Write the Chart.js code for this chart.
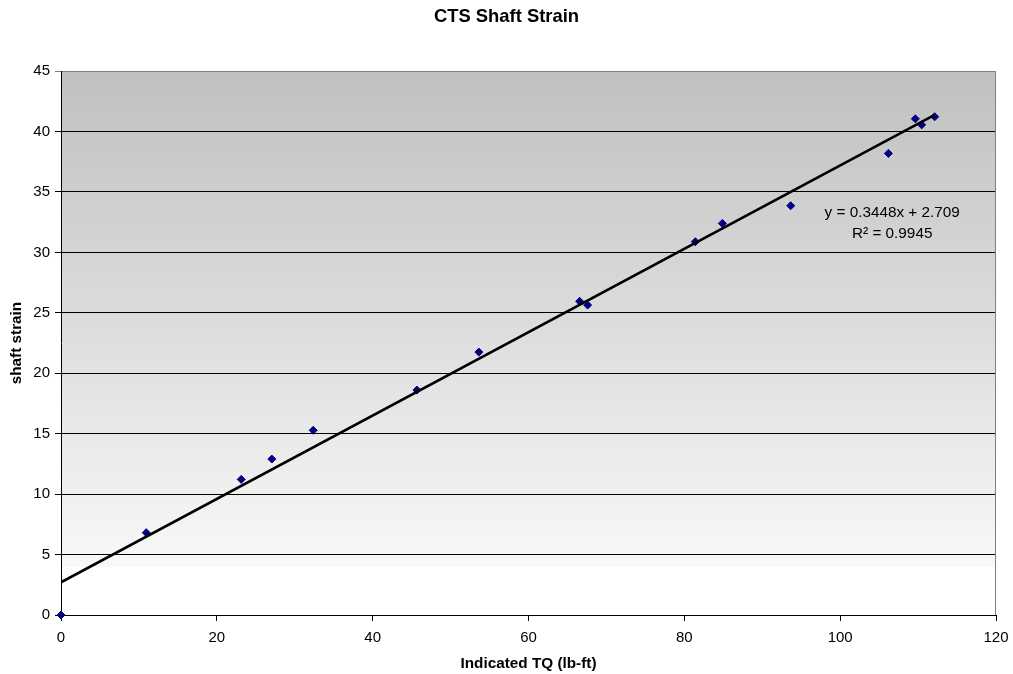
<!DOCTYPE html>
<html>
<head>
<meta charset="utf-8">
<script src="https://cdn.jsdelivr.net/npm/chart.js@4/dist/chart.umd.min.js"></script>
<style>
  html, body { margin: 0; padding: 0; background: #ffffff; }
  #wrap { width: 1013px; height: 674px; position: relative; }
</style>
</head>
<body>
<div id="wrap"><canvas id="c" width="1013" height="674"></canvas></div>
<script>
// ---- Data ----
const torque = [0, 10.94, 23.13, 27.06, 32.37, 45.68, 53.63, 66.56, 67.59, 81.41, 84.88, 93.65, 106.19, 109.65, 110.46, 112.13];
const strain = [0, 6.81, 11.22, 12.90, 15.28, 18.61, 21.75, 25.95, 25.64, 30.88, 32.40, 33.86, 38.19, 41.05, 40.55, 41.22];

// Linear trendline endpoints (as shown in the reference: y = 0.3448x + 2.709)
const trendX = [0, 112.13];
const trendY = [2.709, 41.37];

const xTicks = [0, 20, 40, 60, 80, 100, 120];
const yTicks = [0, 5, 10, 15, 20, 25, 30, 35, 40, 45];

const chartTitle = 'CTS Shaft Strain';
const xTitle = 'Indicated TQ (lb-ft)';
const yTitle = 'shaft strain';
const equationLines = ['y = 0.3448x + 2.709', 'R\u00B2 = 0.9945'];

// ---- Build chart ----
const FONT = "'Liberation Sans', Arial, Helvetica, sans-serif";

const scatterPoints = torque.map((x, i) => ({ x: x, y: strain[i] }));
const trendPoints = trendX.map((x, i) => ({ x: x, y: trendY[i] }));

const plotBackground = {
  id: 'plotBackground',
  beforeDraw(chart) {
    const { ctx, chartArea: a } = chart;
    const g = ctx.createLinearGradient(0, a.top, 0, a.bottom);
    g.addColorStop(0, '#c0c0c0');
    g.addColorStop(0.91, '#f8f8f8');
    g.addColorStop(0.912, '#ffffff');
    g.addColorStop(1, '#ffffff');
    ctx.save();
    ctx.fillStyle = g;
    ctx.fillRect(a.left, a.top, a.right - a.left, a.bottom - a.top);
    ctx.restore();
  },
  beforeDatasetsDraw(chart) {
    const { ctx, chartArea: a } = chart;
    ctx.save();
    ctx.strokeStyle = '#808080';
    ctx.lineWidth = 1;
    ctx.beginPath();
    ctx.moveTo(Math.round(a.right) - 0.5, a.top);
    ctx.lineTo(Math.round(a.right) - 0.5, a.bottom);
    ctx.stroke();
    ctx.restore();
  }
};

const equationLabel = {
  id: 'equationLabel',
  afterDraw(chart) {
    const { ctx, chartArea: a } = chart;
    const cx = a.left + (a.right - a.left) * 0.889;
    const cy = a.top + 142;
    ctx.save();
    ctx.fillStyle = '#000000';
    ctx.font = '15.3px ' + FONT;
    ctx.textAlign = 'center';
    ctx.textBaseline = 'middle';
    ctx.fillText(equationLines[0], cx, cy);
    ctx.fillText(equationLines[1], cx, cy + 21);
    ctx.restore();
  }
};

new Chart(document.getElementById('c'), {
  type: 'scatter',
  data: {
    datasets: [
      {
        label: 'shaft strain',
        data: scatterPoints,
        pointStyle: 'rectRot',
        pointRadius: 4,
        pointHoverRadius: 4,
        pointBackgroundColor: '#000080',
        pointBorderColor: '#000080',
        pointBorderWidth: 1,
        clip: false,
        order: 2
      },
      {
        type: 'line',
        label: 'Linear trend',
        data: trendPoints,
        borderColor: '#000000',
        borderWidth: 2.6,
        pointRadius: 0,
        fill: false,
        tension: 0,
        order: 1
      }
    ]
  },
  options: {
    responsive: false,
    animation: false,
    events: [],
    layout: { padding: { left: 0, right: 0, top: 0, bottom: 0 } },
    plugins: {
      legend: { display: false },
      tooltip: { enabled: false },
      title: {
        display: true,
        text: chartTitle,
        color: '#000000',
        font: { family: FONT, size: 18.4, weight: 'bold' },
        padding: { top: 6, bottom: 43 }
      }
    },
    scales: {
      x: {
        type: 'linear',
        min: xTicks[0],
        max: xTicks[xTicks.length - 1],
        afterBuildTicks(axis) { axis.ticks = xTicks.map(v => ({ value: v })); },
        afterFit(axis) { axis.height = 59; axis.paddingLeft = 0; axis.paddingRight = 17; },
        ticks: {
          color: '#000000',
          font: { family: FONT, size: 15 },
          padding: 8,
          maxRotation: 0
        },
        grid: {
          display: true,
          drawOnChartArea: false,
          drawTicks: true,
          tickLength: 6,
          color: '#000000'
        },
        border: { display: true, color: '#000000', width: 1 },
        title: {
          display: true,
          text: xTitle,
          color: '#000000',
          font: { family: FONT, size: 15.3, weight: 'bold' },
          padding: { top: 0, bottom: 1 }
        }
      },
      y: {
        type: 'linear',
        min: yTicks[0],
        max: yTicks[yTicks.length - 1],
        afterBuildTicks(axis) { axis.ticks = yTicks.map(v => ({ value: v })); },
        afterFit(axis) { axis.width = 61; },
        ticks: {
          color: '#000000',
          font: { family: FONT, size: 15 },
          padding: 5
        },
        grid: {
          display: true,
          drawTicks: true,
          tickLength: 6,
          color: (c) => (c.tick && c.tick.value === 45 ? '#808080' : '#000000'),
          lineWidth: 1
        },
        border: { display: true, color: '#000000', width: 1 },
        title: {
          display: true,
          text: yTitle,
          color: '#000000',
          font: { family: FONT, size: 15.3, weight: 'bold' },
          padding: { top: 8, bottom: 0 }
        }
      }
    }
  },
  plugins: [plotBackground, equationLabel]
});
</script>
</body>
</html>
